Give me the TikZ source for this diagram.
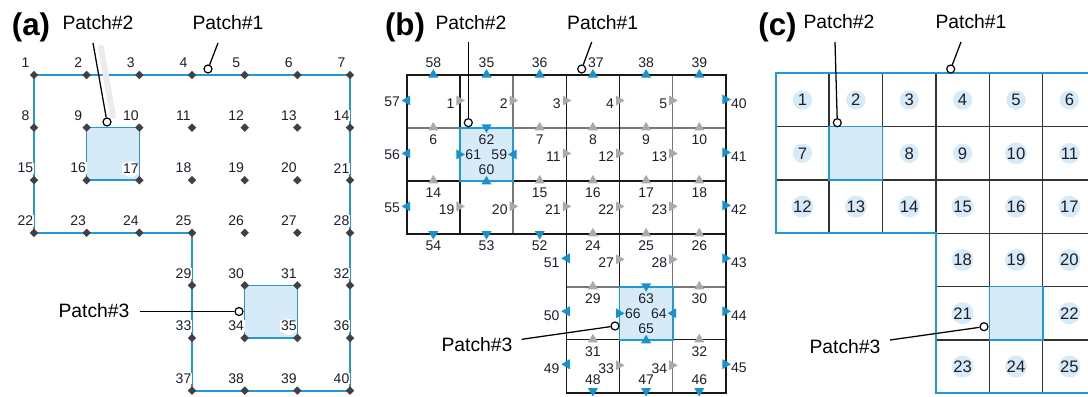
\documentclass[tikz,border=0pt]{standalone}
\usepackage{fontspec}
\setmainfont{Liberation Sans}
\usetikzlibrary{shapes.geometric}
\definecolor{pblue}{RGB}{35,152,215}
\definecolor{pfill}{RGB}{214,235,247}
\definecolor{tblue}{RGB}{25,145,205}
\definecolor{tgrey}{RGB}{170,170,170}
\definecolor{dotc}{RGB}{65,65,65}
\definecolor{numcol}{RGB}{30,30,45}
\definecolor{gridg}{RGB}{120,120,120}
\definecolor{gridk}{RGB}{25,25,25}
\definecolor{gridc}{RGB}{50,50,50}
\newcommand\tri[4]{\fill[#4, shift={(#1,#2)}, rotate=#3] (5,0) -- (-3.5,5) -- (-3.5,-5) -- cycle;}
\begin{document}
\begin{tikzpicture}[x=0.75pt,y=-0.75pt,
  numw/.style={font=\fontsize{10.5}{12}\selectfont, text=numcol, inner sep=0.6pt, fill=white},
  numb/.style={font=\fontsize{10.5}{12}\selectfont, text=numcol, inner sep=0.6pt},
  cnum/.style={font=\fontsize{12.5}{14}\selectfont, text=numcol, circle, fill=pfill, inner sep=0pt, minimum size=14.5pt},
  ptag/.style={font=\fontsize{14.5}{17}\selectfont, anchor=base, inner sep=0pt},
  plab/.style={font=\fontsize{23.5}{27}\selectfont\bfseries, anchor=base, inner sep=0pt},
  pin/.style={circle, draw=black, fill=white, line width=0.9pt, inner sep=0pt, minimum size=6pt},
  cline/.style={line width=0.95pt, black},
  bline/.style={draw=pblue, line width=1.4pt},
  patch/.style={fill=pfill, draw=pblue, line width=1.2pt},
  dot/.style={diamond, fill=dotc, inner sep=0pt, minimum size=6.5pt},
  gk/.style={draw=gridk, line width=1.05pt},
  gg/.style={draw=gridg, line width=1.05pt},
  gc/.style={draw=gridc, line width=0.95pt}
]
\useasboundingbox (0,0) rectangle (1088,396);
\clip (0,0) rectangle (1088,396);

%% ================= (a)
\foreach \r in {1,...,4}{\foreach \c in {1,...,7}{
  \pgfmathtruncatemacro\n{7*(\r-1)+\c}
  \coordinate (a\n) at ({34+52.67*(\c-1)},{75+52.6*(\r-1)});}}
\foreach \r in {5,6,7}{\foreach \c in {4,...,7}{
  \pgfmathtruncatemacro\n{28+4*(\r-5)+\c-3}
  \coordinate (a\n) at ({34+52.67*(\c-1)},{75+52.6*(\r-1)});}}
\draw[bline] (a1) -- (a7) -- (a40) -- (a37) -- (a25) -- (a22) -- cycle;
\path[patch] (a9) rectangle (a17);
\path[patch] (a30) rectangle (a35);
\node[circle, fill=white, minimum size=12pt, inner sep=0pt] (ha17) at ([shift={(-8.5,-11)}]a17) {};
\node[circle, fill=white, minimum size=12pt, inner sep=0pt] (ha35) at ([shift={(-8.5,-11)}]a35) {};
\foreach \n in {1,...,40}{
  \node[numw, anchor=south] (la\n) at ([shift={(-8.5,-6)}]a\n) {\n};}
\foreach \n in {1,...,40}{\node[dot] (d\n) at (a\n) {};}

\node[plab] (A) at (31,35) {(a)};
\node[ptag] (tA2) at (98,29) {Patch\#2};
\node[ptag] (tA1) at (228,29) {Patch\#1};
\node[ptag] (tA3) at (94,317) {Patch\#3};
\draw[line width=4.5pt, black!8, line cap=round] (101,48) -- (113,116);
\coordinate (sA2) at (93,43); \node[pin] (cA2) at (107,122) {}; \draw[cline] (sA2) -- (cA2);
\coordinate (sA1) at (218,43); \node[pin] (cA1) at (208,69) {}; \draw[cline] (sA1) -- (cA1);
\coordinate (sA3) at (140,311.5); \node[pin] (cA3) at (239,311.5) {}; \draw[cline] (sA3) -- (cA3);

%% ================= (b)
\foreach \i in {0,...,6}{\foreach \j in {0,...,6}{
  \coordinate (b\i\j) at ({406.7+53.2*\i},{75+52.95*\j});}}
\draw[gg] (b01) -- (b61);
\draw[gg] (b20) -- (b23);
\draw[gg] (b50) -- (b56);
\draw[gg] (b34) -- (b64);
\draw[gk] (b02) -- (b62);
\draw[gk] (b10) -- (b13);
\draw[gk] (b30) -- (b33);
\draw[gk] (b40) -- (b46);
\draw[gk] (b33) -- (b63);
\draw[gk] (b35) -- (b65);
\draw[gk, line width=1.2pt] (b00) -- (b60) -- (b66) -- (b36) -- (b33) -- (b03) -- cycle;
\path[patch] (b11) rectangle (b22);
\path[patch] (b44) rectangle (b55);

% grey vertical-edge markers
\foreach \i/\j/\n in {1/0/1, 2/0/2, 3/0/3, 4/0/4, 5/0/5, 3/1/11, 4/1/12, 5/1/13, 1/2/19, 2/2/20, 3/2/21, 4/2/22, 5/2/23, 4/3/27, 5/3/28, 4/5/33, 5/5/34}{
  \pgfmathsetmacro\x{406.7+53.2*\i}
  \pgfmathsetmacro\y{75+52.95*(\j+0.5)}
  \tri{\x}{\y-1}{0}{tgrey}
  \node[numb, anchor=east] (lb\n) at (\x-4.5,\y+2) {\n};}
% grey horizontal-edge markers
\foreach \i/\j/\n in {0/1/6, 2/1/7, 3/1/8, 4/1/9, 5/1/10, 0/2/14, 2/2/15, 3/2/16, 4/2/17, 5/2/18, 3/3/24, 4/3/25, 5/3/26, 3/4/29, 5/4/30, 3/5/31, 5/5/32}{
  \pgfmathsetmacro\x{406.7+53.2*(\i+0.5)}
  \pgfmathsetmacro\y{75+52.95*\j}
  \tri{\x}{\y-1}{90}{tgrey}
  \node[numb, anchor=north] (lb\n) at (\x,\y+6) {\n};}
% blue boundary markers
\foreach \i/\n/\dx in {0/58/0, 1/35/0, 2/36/0, 3/37/3, 4/38/0, 5/39/0}{
  \pgfmathsetmacro\x{406.7+53.2*(\i+0.5)}
  \tri{\x}{74}{90}{tblue}
  \node[numb, anchor=south] (lb\n) at (\x+\dx,69) {\n};}
\foreach \j/\n in {0/57, 1/56, 2/55}{
  \pgfmathsetmacro\y{75+52.95*(\j+0.5)}
  \tri{406.7}{\y-1}{180}{tblue}
  \node[numb, anchor=east] (lb\n) at (401,\y) {\n};}
\foreach \j/\n in {3/51, 4/50, 5/49}{
  \pgfmathsetmacro\y{75+52.95*(\j+0.5)}
  \tri{566.3}{\y-2}{180}{tblue}
  \node[numb, anchor=east] (lb\n) at (560.5,\y+2) {\n};}
\foreach \j/\n in {0/40, 1/41, 2/42, 3/43, 4/44, 5/45}{
  \pgfmathsetmacro\y{75+52.95*(\j+0.5)}
  \tri{725.9}{\y-2}{0}{tblue}
  \node[numb, anchor=west] (lb\n) at (730,\y+2) {\n};}
\foreach \i/\n in {0/54, 1/53, 2/52}{
  \pgfmathsetmacro\x{406.7+53.2*(\i+0.5)}
  \tri{\x}{234.5}{-90}{tblue}
  \node[numb, anchor=north] (lb\n) at (\x,239.5) {\n};}
\foreach \i/\n in {3/48, 4/47, 5/46}{
  \pgfmathsetmacro\x{406.7+53.2*(\i+0.5)}
  \tri{\x}{391.5}{-90}{tblue}
  \node[numb, anchor=south] (lb\n) at (\x,386) {\n};}
% patch markers
\foreach \i/\j/\nt/\nl/\nr/\nb in {1/1/62/61/59/60, 4/4/63/66/64/65}{
  \pgfmathsetmacro\xl{406.7+53.2*\i}
  \pgfmathsetmacro\xr{406.7+53.2*(\i+1)}
  \pgfmathsetmacro\xm{406.7+53.2*(\i+0.5)}
  \pgfmathsetmacro\yt{75+52.95*\j}
  \pgfmathsetmacro\yb{75+52.95*(\j+1)}
  \pgfmathsetmacro\ym{75+52.95*(\j+0.5)}
  \tri{\xm}{\yt}{-90}{tblue}
  \tri{\xl}{\ym}{0}{tblue}
  \tri{\xr}{\ym}{180}{tblue}
  \tri{\xm}{\yb}{90}{tblue}
  \node[numb, anchor=north] (lb\nt) at (\xm,\yt+6) {\nt};
  \node[numb, anchor=west] (lb\nl) at (\xl+4.5,\ym) {\nl};
  \node[numb, anchor=east] (lb\nr) at (\xr-5,\ym) {\nr};
  \node[numb, anchor=south] (lb\nb) at (\xm,\yb-5.5) {\nb};}

\node[plab] (B) at (405,35) {(b)};
\node[ptag] (tB2) at (471,29) {Patch\#2};
\node[ptag] (tB1) at (602.7,29) {Patch\#1};
\node[ptag] (tB3) at (477,351.5) {Patch\#3};
\coordinate (sB2) at (468.3,42); \node[pin] (cB2) at (468.3,122.7) {}; \draw[cline] (sB2) -- (cB2);
\coordinate (sB1) at (591.7,42); \node[pin] (cB1) at (581.7,69) {}; \draw[cline] (sB1) -- (cB1);
\coordinate (sB3) at (521.7,339.3); \node[pin] (cB3) at (615,326) {}; \draw[cline] (sB3) -- (cB3);

%% ================= (c)
\foreach \i in {0,...,6}{\foreach \j in {0,...,6}{
  \coordinate (c\i\j) at ({775.7+53.4*\i},{73.3+53.33*\j});}}
\draw[gc] (c01) -- (c61);
\draw[gc] (c02) -- (c62);
\draw[gc] (c33) -- (c63);
\draw[gc] (c34) -- (c64);
\draw[gc] (c35) -- (c65);
\draw[gc] (c10) -- (c13);
\draw[gc] (c20) -- (c23);
\draw[gc] (c30) -- (c33);
\draw[gc] (c40) -- (c46);
\draw[gc] (c50) -- (c56);
\draw[gc] (c60) -- (c66);
\draw[bline] (c60) -- (c00) -- (c03) -- (c33) -- (c36) -- (c66);
\path[patch] (c11) rectangle (c22);
\path[patch] (c44) rectangle (c55);
\foreach \i/\j/\n in {0/0/1, 1/0/2, 2/0/3, 3/0/4, 4/0/5, 5/0/6,
  0/1/7, 2/1/8, 3/1/9, 4/1/10, 5/1/11,
  0/2/12, 1/2/13, 2/2/14, 3/2/15, 4/2/16, 5/2/17,
  3/3/18, 4/3/19, 5/3/20, 3/4/21, 5/4/22, 3/5/23, 4/5/24, 5/5/25}{
  \node[cnum] (n\n) at ({775.7+53.4*(\i+0.5)},{73.3+53.33*(\j+0.5)}) {\n};}

\node[plab] (C) at (777.5,35) {(c)};
\node[ptag] (tC2) at (839,28) {Patch\#2};
\node[ptag] (tC1) at (971,28) {Patch\#1};
\node[ptag] (tC3) at (845,353) {Patch\#3};
\coordinate (sC2) at (835,42); \node[pin] (cC2) at (837.3,122.7) {}; \draw[cline] (sC2) -- (cC2);
\coordinate (sC1) at (961,42); \node[pin] (cC1) at (950.7,69) {}; \draw[cline] (sC1) -- (cC1);
\coordinate (sC3) at (890,340); \node[pin] (cC3) at (984,326.7) {}; \draw[cline] (sC3) -- (cC3);
\end{tikzpicture}
\end{document}
